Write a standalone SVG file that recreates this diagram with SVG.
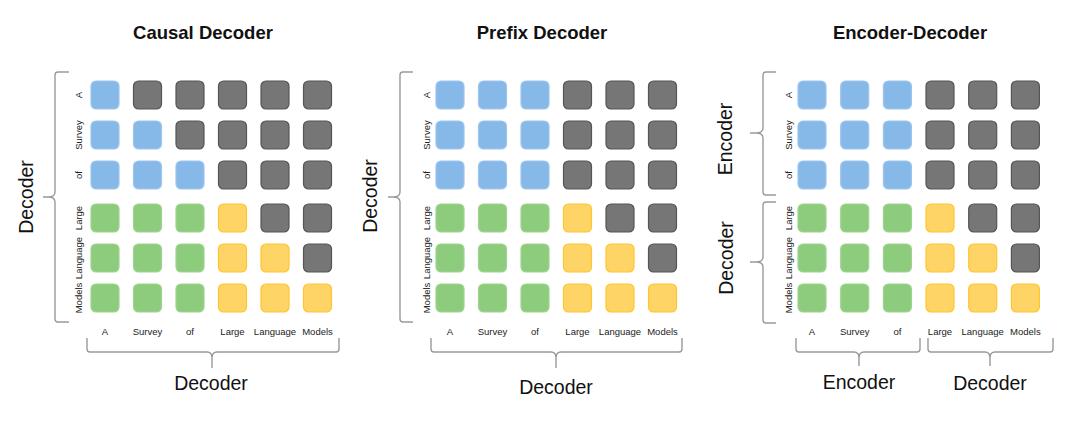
<svg xmlns="http://www.w3.org/2000/svg" width="1080" height="426" viewBox="0 0 1080 426">
<style>
rect{stroke-width:1.2}
.b{fill:#86B8E8;stroke:#9DC6EF}
.x{fill:#767676;stroke:#555555}
.g{fill:#8DCB7D;stroke:#9FD490}
.y{fill:#FFD466;stroke:#FFC52E}
.t{font-family:"Liberation Sans",Arial,sans-serif;font-weight:bold;font-size:18.5px;fill:#111;text-anchor:middle}
.lb{font-family:"Liberation Sans",Arial,sans-serif;font-size:9.5px;fill:#222;text-anchor:middle}
.big{font-family:"Liberation Sans",Arial,sans-serif;font-size:19.5px;fill:#111;text-anchor:middle}
.br{fill:none;stroke:#9a9a9a;stroke-width:1.4}
</style>
<rect width="1080" height="426" fill="#fff" stroke="none"/>
<g id="titles">
<text class="t" x="203" y="39">Causal Decoder</text>
<text class="t" x="542" y="39">Prefix Decoder</text>
<text class="t" x="910" y="39">Encoder-Decoder</text>
</g>
<g id="panel-causal">
<rect class="b" x="91" y="81" width="28" height="28" rx="5"/><rect class="x" x="133.5" y="81" width="28" height="28" rx="5"/><rect class="x" x="176" y="81" width="28" height="28" rx="5"/><rect class="x" x="218.5" y="81" width="28" height="28" rx="5"/><rect class="x" x="261" y="81" width="28" height="28" rx="5"/><rect class="x" x="303.5" y="81" width="28" height="28" rx="5"/>
<rect class="b" x="91" y="121" width="28" height="28" rx="5"/><rect class="b" x="133.5" y="121" width="28" height="28" rx="5"/><rect class="x" x="176" y="121" width="28" height="28" rx="5"/><rect class="x" x="218.5" y="121" width="28" height="28" rx="5"/><rect class="x" x="261" y="121" width="28" height="28" rx="5"/><rect class="x" x="303.5" y="121" width="28" height="28" rx="5"/>
<rect class="b" x="91" y="161" width="28" height="28" rx="5"/><rect class="b" x="133.5" y="161" width="28" height="28" rx="5"/><rect class="b" x="176" y="161" width="28" height="28" rx="5"/><rect class="x" x="218.5" y="161" width="28" height="28" rx="5"/><rect class="x" x="261" y="161" width="28" height="28" rx="5"/><rect class="x" x="303.5" y="161" width="28" height="28" rx="5"/>
<rect class="g" x="91" y="204" width="28" height="28" rx="5"/><rect class="g" x="133.5" y="204" width="28" height="28" rx="5"/><rect class="g" x="176" y="204" width="28" height="28" rx="5"/><rect class="y" x="218.5" y="204" width="28" height="28" rx="5"/><rect class="x" x="261" y="204" width="28" height="28" rx="5"/><rect class="x" x="303.5" y="204" width="28" height="28" rx="5"/>
<rect class="g" x="91" y="244" width="28" height="28" rx="5"/><rect class="g" x="133.5" y="244" width="28" height="28" rx="5"/><rect class="g" x="176" y="244" width="28" height="28" rx="5"/><rect class="y" x="218.5" y="244" width="28" height="28" rx="5"/><rect class="y" x="261" y="244" width="28" height="28" rx="5"/><rect class="x" x="303.5" y="244" width="28" height="28" rx="5"/>
<rect class="g" x="91" y="284" width="28" height="28" rx="5"/><rect class="g" x="133.5" y="284" width="28" height="28" rx="5"/><rect class="g" x="176" y="284" width="28" height="28" rx="5"/><rect class="y" x="218.5" y="284" width="28" height="28" rx="5"/><rect class="y" x="261" y="284" width="28" height="28" rx="5"/><rect class="y" x="303.5" y="284" width="28" height="28" rx="5"/>
<g class="lb">
<text transform="translate(82,95) rotate(-90)">A</text>
<text transform="translate(82,135) rotate(-90)">Survey</text>
<text transform="translate(82,175) rotate(-90)">of</text>
<text transform="translate(82,218) rotate(-90)">Large</text>
<text transform="translate(82,258) rotate(-90)">Language</text>
<text transform="translate(82,298) rotate(-90)">Models</text>
<text x="105" y="335">A</text><text x="147.5" y="335">Survey</text><text x="190" y="335">of</text><text x="232.5" y="335">Large</text><text x="275" y="335">Language</text><text x="317.5" y="335">Models</text>
</g>
<text class="big" transform="translate(33,197) rotate(-90)">Decoder</text>
<text class="big" x="211" y="390">Decoder</text>
</g>
<g id="panel-prefix">
<rect class="b" x="436" y="81" width="28" height="28" rx="5"/><rect class="b" x="478.5" y="81" width="28" height="28" rx="5"/><rect class="b" x="521" y="81" width="28" height="28" rx="5"/><rect class="x" x="563.5" y="81" width="28" height="28" rx="5"/><rect class="x" x="606" y="81" width="28" height="28" rx="5"/><rect class="x" x="648.5" y="81" width="28" height="28" rx="5"/>
<rect class="b" x="436" y="121" width="28" height="28" rx="5"/><rect class="b" x="478.5" y="121" width="28" height="28" rx="5"/><rect class="b" x="521" y="121" width="28" height="28" rx="5"/><rect class="x" x="563.5" y="121" width="28" height="28" rx="5"/><rect class="x" x="606" y="121" width="28" height="28" rx="5"/><rect class="x" x="648.5" y="121" width="28" height="28" rx="5"/>
<rect class="b" x="436" y="161" width="28" height="28" rx="5"/><rect class="b" x="478.5" y="161" width="28" height="28" rx="5"/><rect class="b" x="521" y="161" width="28" height="28" rx="5"/><rect class="x" x="563.5" y="161" width="28" height="28" rx="5"/><rect class="x" x="606" y="161" width="28" height="28" rx="5"/><rect class="x" x="648.5" y="161" width="28" height="28" rx="5"/>
<rect class="g" x="436" y="204" width="28" height="28" rx="5"/><rect class="g" x="478.5" y="204" width="28" height="28" rx="5"/><rect class="g" x="521" y="204" width="28" height="28" rx="5"/><rect class="y" x="563.5" y="204" width="28" height="28" rx="5"/><rect class="x" x="606" y="204" width="28" height="28" rx="5"/><rect class="x" x="648.5" y="204" width="28" height="28" rx="5"/>
<rect class="g" x="436" y="244" width="28" height="28" rx="5"/><rect class="g" x="478.5" y="244" width="28" height="28" rx="5"/><rect class="g" x="521" y="244" width="28" height="28" rx="5"/><rect class="y" x="563.5" y="244" width="28" height="28" rx="5"/><rect class="y" x="606" y="244" width="28" height="28" rx="5"/><rect class="x" x="648.5" y="244" width="28" height="28" rx="5"/>
<rect class="g" x="436" y="284" width="28" height="28" rx="5"/><rect class="g" x="478.5" y="284" width="28" height="28" rx="5"/><rect class="g" x="521" y="284" width="28" height="28" rx="5"/><rect class="y" x="563.5" y="284" width="28" height="28" rx="5"/><rect class="y" x="606" y="284" width="28" height="28" rx="5"/><rect class="y" x="648.5" y="284" width="28" height="28" rx="5"/>
<g class="lb">
<text transform="translate(430,95) rotate(-90)">A</text>
<text transform="translate(430,135) rotate(-90)">Survey</text>
<text transform="translate(430,175) rotate(-90)">of</text>
<text transform="translate(430,218) rotate(-90)">Large</text>
<text transform="translate(430,258) rotate(-90)">Language</text>
<text transform="translate(430,298) rotate(-90)">Models</text>
<text x="450" y="335">A</text><text x="492.5" y="335">Survey</text><text x="535" y="335">of</text><text x="577.5" y="335">Large</text><text x="620" y="335">Language</text><text x="662.5" y="335">Models</text>
</g>
<text class="big" transform="translate(377,196) rotate(-90)">Decoder</text>
<text class="big" x="556" y="394">Decoder</text>
</g>
<g id="panel-encdec">
<rect class="b" x="798" y="81" width="28" height="28" rx="5"/><rect class="b" x="840.7" y="81" width="28" height="28" rx="5"/><rect class="b" x="883.4" y="81" width="28" height="28" rx="5"/><rect class="x" x="926" y="81" width="28" height="28" rx="5"/><rect class="x" x="968.7" y="81" width="28" height="28" rx="5"/><rect class="x" x="1011.4" y="81" width="28" height="28" rx="5"/>
<rect class="b" x="798" y="121" width="28" height="28" rx="5"/><rect class="b" x="840.7" y="121" width="28" height="28" rx="5"/><rect class="b" x="883.4" y="121" width="28" height="28" rx="5"/><rect class="x" x="926" y="121" width="28" height="28" rx="5"/><rect class="x" x="968.7" y="121" width="28" height="28" rx="5"/><rect class="x" x="1011.4" y="121" width="28" height="28" rx="5"/>
<rect class="b" x="798" y="161" width="28" height="28" rx="5"/><rect class="b" x="840.7" y="161" width="28" height="28" rx="5"/><rect class="b" x="883.4" y="161" width="28" height="28" rx="5"/><rect class="x" x="926" y="161" width="28" height="28" rx="5"/><rect class="x" x="968.7" y="161" width="28" height="28" rx="5"/><rect class="x" x="1011.4" y="161" width="28" height="28" rx="5"/>
<rect class="g" x="798" y="204" width="28" height="28" rx="5"/><rect class="g" x="840.7" y="204" width="28" height="28" rx="5"/><rect class="g" x="883.4" y="204" width="28" height="28" rx="5"/><rect class="y" x="926" y="204" width="28" height="28" rx="5"/><rect class="x" x="968.7" y="204" width="28" height="28" rx="5"/><rect class="x" x="1011.4" y="204" width="28" height="28" rx="5"/>
<rect class="g" x="798" y="244" width="28" height="28" rx="5"/><rect class="g" x="840.7" y="244" width="28" height="28" rx="5"/><rect class="g" x="883.4" y="244" width="28" height="28" rx="5"/><rect class="y" x="926" y="244" width="28" height="28" rx="5"/><rect class="y" x="968.7" y="244" width="28" height="28" rx="5"/><rect class="x" x="1011.4" y="244" width="28" height="28" rx="5"/>
<rect class="g" x="798" y="284" width="28" height="28" rx="5"/><rect class="g" x="840.7" y="284" width="28" height="28" rx="5"/><rect class="g" x="883.4" y="284" width="28" height="28" rx="5"/><rect class="y" x="926" y="284" width="28" height="28" rx="5"/><rect class="y" x="968.7" y="284" width="28" height="28" rx="5"/><rect class="y" x="1011.4" y="284" width="28" height="28" rx="5"/>
<g class="lb">
<text transform="translate(792,95) rotate(-90)">A</text>
<text transform="translate(792,135) rotate(-90)">Survey</text>
<text transform="translate(792,175) rotate(-90)">of</text>
<text transform="translate(792,218) rotate(-90)">Large</text>
<text transform="translate(792,258) rotate(-90)">Language</text>
<text transform="translate(792,298) rotate(-90)">Models</text>
<text x="812" y="335">A</text><text x="854.7" y="335">Survey</text><text x="897.4" y="335">of</text><text x="940" y="335">Large</text><text x="982.7" y="335">Language</text><text x="1025.4" y="335">Models</text>
</g>
<text class="big" transform="translate(732,139) rotate(-90)">Encoder</text>
<text class="big" transform="translate(733,258) rotate(-90)">Decoder</text>
<text class="big" x="859" y="389">Encoder</text>
<text class="big" x="990" y="390">Decoder</text>
</g>
<g id="connectors">
<path class="br" d="M69,72 L58,72 Q55,72 55,75 L55,192 Q55,197 48,197 L43,197 L48,197 Q55,197 55,202 L55,319 Q55,322 58,322 L69,322"/>
<path class="br" d="M413,72 L403,72 Q400,72 400,75 L400,192 Q400,197 393,197 L388,197 L393,197 Q400,197 400,202 L400,319 Q400,322 403,322 L413,322"/>
<path class="br" d="M776,72 L766,72 Q763,72 763,75 L763,128 Q763,133 756,133 L750,133 L756,133 Q763,133 763,138 L763,192 Q763,195 766,195 L776,195"/>
<path class="br" d="M776,202 L766,202 Q763,202 763,205 L763,257 Q763,262 756,262 L750,262 L756,262 Q763,262 763,267 L763,320 Q763,323 766,323 L776,323"/>
<path class="br" d="M87,338 L87,349 Q87,352 90,352 L207,352 Q212,352 212,358 L212,368 L212,358 Q212,352 217,352 L336,352 Q339,352 339,349 L339,338"/>
<path class="br" d="M431,338 L431,349 Q431,352 434,352 L551,352 Q556,352 556,358 L556,368 L556,358 Q556,352 561,352 L679,352 Q682,352 682,349 L682,338"/>
<path class="br" d="M796,338 L796,349 Q796,352 799,352 L854,352 Q859,352 859,358 L859,366 L859,358 Q859,352 864,352 L917,352 Q920,352 920,349 L920,338"/>
<path class="br" d="M928,338 L928,349 Q928,352 931,352 L985,352 Q990,352 990,358 L990,366 L990,358 Q990,352 995,352 L1050,352 Q1053,352 1053,349 L1053,338"/>
</g>
</svg>
